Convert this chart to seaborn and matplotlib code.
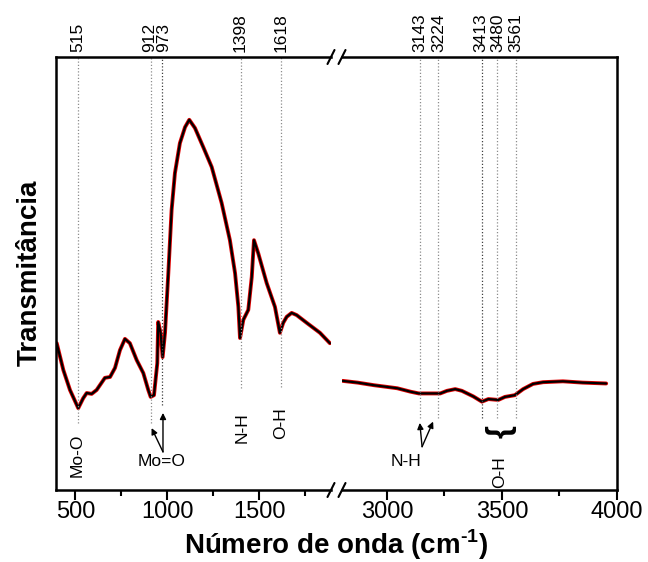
import numpy as np
import pandas as pd
import matplotlib
matplotlib.use("Agg")
import matplotlib.pyplot as plt
from matplotlib.lines import Line2D
import seaborn as sns

# ---------------- data ----------------
wn_low = [398, 434, 470, 515, 542, 561, 588, 615, 660, 688, 715, 742, 769, 796,
          833, 869, 896, 909, 927, 945, 950, 963, 974, 987, 1005, 1023, 1041,
          1068, 1096, 1119, 1150, 1195, 1241, 1295, 1340, 1368, 1386, 1395,
          1413, 1440, 1459, 1471, 1494, 1540, 1585, 1612, 1630, 1649, 1676,
          1703, 1758, 1830, 1884]
t_low = [33.9, 27.7, 23.1, 18.9, 21.2, 22.4, 22.2, 23.1, 25.9, 26.1, 28.2, 32.3,
         34.9, 33.9, 30.0, 27.0, 23.1, 21.5, 21.9, 29.3, 38.8, 36.3, 30.7, 36.3,
         50.1, 64.7, 73.2, 80.1, 83.8, 85.5, 83.6, 79.2, 74.6, 66.3, 57.7, 50.1,
         42.3, 35.1, 39.3, 41.6, 49.2, 57.7, 54.7, 47.8, 42.3, 36.3, 38.6, 40.0,
         40.9, 40.4, 38.6, 36.3, 33.9]
wn_high = [2808, 2873, 2944, 3045, 3103, 3139, 3232, 3261, 3297, 3326, 3376,
           3413, 3441, 3463, 3484, 3513, 3556, 3592, 3635, 3679, 3765, 3851, 3953]
t_high = [25.2, 24.8, 24.2, 23.5, 22.7, 22.3, 22.3, 22.9, 23.3, 22.9, 21.6,
          20.4, 21.0, 20.9, 20.8, 21.5, 21.9, 23.3, 24.5, 24.9, 25.1, 24.8, 24.6]

peaks_low = [515, 912, 973, 1398, 1618]
peaks_low_bottom = [15.5, 15.5, 19.6, 23.6, 23.8]
peaks_high = [3143, 3224, 3413, 3480, 3561]
peaks_high_bottom = [16.6, 16.6, 16.6, 16.6, 16.6]

xticks_low = [500, 1000, 1500]
xminor_low = [750, 1250, 1750]
xticks_high = [3000, 3500, 4000]
xminor_high = [3250, 3750]

# ---------------- style ----------------
sns.set_style("ticks")
plt.rcParams["font.family"] = ["Liberation Sans", "DejaVu Sans"]
plt.rcParams["mathtext.fontset"] = "custom"
plt.rcParams["mathtext.rm"] = "Liberation Sans:bold"
plt.rcParams["mathtext.bf"] = "Liberation Sans:bold"
plt.rcParams["text.color"] = "black"
plt.rcParams["axes.edgecolor"] = "black"
plt.rcParams["axes.labelcolor"] = "black"
plt.rcParams["xtick.color"] = "black"
plt.rcParams["ytick.color"] = "black"

W, H = 648, 562
fig = plt.figure(figsize=(W / 100, H / 100), dpi=100)
ax1 = fig.add_axes([56 / W, 72 / H, 275 / W, 433 / H])
ax2 = fig.add_axes([342 / W, 72 / H, 275 / W, 433 / H])

df_low = pd.DataFrame({"wn": wn_low, "T": t_low})
df_high = pd.DataFrame({"wn": wn_high, "T": t_high})

for ax, df in [(ax1, df_low), (ax2, df_high)]:
    sns.lineplot(data=df, x="wn", y="T", ax=ax, color="#e00000", lw=2.8,
                 estimator=None, sort=False)
    sns.lineplot(data=df, x="wn", y="T", ax=ax, color="black", lw=1.6,
                 estimator=None, sort=False)

ax1.set_xlim(394, 1890)
ax2.set_xlim(2805, 4000)
for ax in (ax1, ax2):
    ax.set_ylim(0, 100)
    ax.set_yticks([])
    ax.set_xlabel("")
    ax.set_ylabel("")
    for s in ax.spines.values():
        s.set_linewidth(1.8)
        s.set_color("black")
    ax.tick_params(axis="x", which="major", direction="out", length=7, width=1.5,
                   labelsize=17, pad=1, colors="black")
    ax.tick_params(axis="x", which="minor", direction="out", length=4, width=1.5,
                   colors="black")

ax1.spines["right"].set_visible(False)
ax2.spines["left"].set_visible(False)
ax1.set_xticks(xticks_low)
ax1.set_xticks(xminor_low, minor=True)
ax2.set_xticks(xticks_high)
ax2.set_xticks(xminor_high, minor=True)

# peak guide lines and labels
dark = {973, 3413}
label_shift = {912: -7, 973: 9, 3413: -3, 3480: 3}
for ax, peaks, bots in [(ax1, peaks_low, peaks_low_bottom),
                        (ax2, peaks_high, peaks_high_bottom)]:
    for p, b in zip(peaks, bots):
        c = "0.25" if p in dark else "0.55"
        ax.vlines(p, b, 100, colors=c, linestyles=(0, (1, 1.6)), lw=0.9)
        ax.text(p + label_shift.get(p, 0), 101.2, str(p), rotation=90,
                ha="center", va="bottom", fontsize=12.5)

# annotations
arw = dict(arrowstyle="-|>", color="black", lw=1.0, mutation_scale=9,
           shrinkA=0, shrinkB=0)
ax1.text(508, 7.9, "Mo-O", rotation=90, ha="center", va="center", fontsize=12.5)
ax1.text(970, 6.5, "Mo=O", ha="center", va="center", fontsize=12.5)
ax1.annotate("", xy=(976, 17.8), xytext=(976, 8.8), arrowprops=arw)
ax1.annotate("", xy=(914, 14.3), xytext=(976, 8.8), arrowprops=arw)
ax1.text(1406, 14.3, "N-H", rotation=90, ha="center", va="center", fontsize=12.5)
ax1.text(1618, 15.5, "O-H", rotation=90, ha="center", va="center", fontsize=12.5)

ax2.text(3085, 6.5, "N-H", ha="center", va="center", fontsize=12.5)
ax2.annotate("", xy=(3143, 15.5), xytext=(3153, 10.0), arrowprops=arw)
ax2.annotate("", xy=(3201, 15.8), xytext=(3153, 10.0), arrowprops=arw)
ax2.text(3487, 13.6, "}", rotation=-90, ha="center", va="center", fontsize=24,
         fontweight="bold")
ax2.text(3492, 4.2, "O-H", rotation=90, ha="center", va="center", fontsize=12.5)

# axis labels
fig.text(30 / W, 1 - 273 / H, "Transmitância", rotation=90, ha="center",
         va="center", fontsize=20, fontweight="bold")
fig.text(336.5 / W, 1 - 545 / H, r"Número de onda (cm$^{\text{-1}}$)",
         ha="center", va="center", fontsize=20, fontweight="bold")

# break marks
for xc in (331, 342):
    for yc in (57, 490):
        fig.add_artist(Line2D([(xc - 3.5) / W, (xc + 3.5) / W],
                              [1 - (yc + 7) / H, 1 - (yc - 7) / H],
                              color="black", lw=1.5))

fig.savefig("out.png", dpi=100)
